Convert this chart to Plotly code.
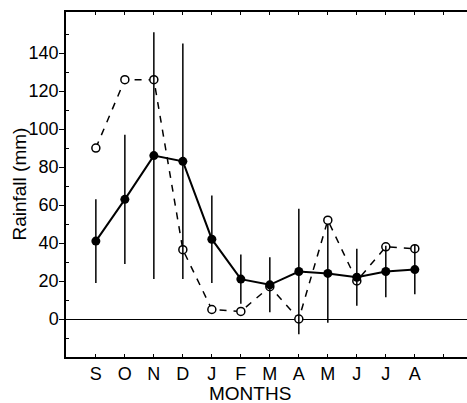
import plotly.graph_objects as go

months = ["S", "O", "N", "D", "J", "F", "M", "A", "M", "J", "J", "A"]
mean_rain = [41, 63, 86, 83, 42, 21, 18, 25, 24, 22, 25, 26]
mean_err = [22, 34, 65, 62, 23, 13, 14.5, 33, 26, 15, 13.5, 13]
year_rain = [90, 126, 126, 36.5, 5, 4, 17, 0, 52, 20, 38, 37]
ytick_vals = [0, 20, 40, 60, 80, 100, 120, 140]

xpos = list(range(len(months)))

fig = go.Figure()
fig.add_trace(go.Scatter(
    x=xpos, y=year_rain, mode="lines+markers",
    line=dict(color="black", width=1.5, dash="7px,7px"),
    marker=dict(symbol="circle", size=8, color="white",
                line=dict(color="black", width=1.5)),
    showlegend=False,
))
fig.add_trace(go.Scatter(
    x=xpos, y=mean_rain, mode="lines+markers",
    line=dict(color="black", width=2),
    marker=dict(symbol="circle", size=9, color="black"),
    error_y=dict(type="data", array=mean_err, visible=True,
                 color="black", thickness=1.5, width=0),
    showlegend=False,
))

fig.update_layout(
    width=467, height=403,
    margin=dict(l=66, r=0, t=12, b=46),
    paper_bgcolor="white", plot_bgcolor="white",
    font=dict(family="Liberation Sans, Arial, sans-serif", color="black", size=18),
    xaxis=dict(
        range=[-1.03, 12.8],
        tickvals=list(range(-1, 13)),
        ticktext=[""] + months + [""],
        ticks="inside", ticklen=3, tickcolor="black", tickwidth=1,
        showline=True, linecolor="black", linewidth=1.5,
        mirror="ticks", showgrid=False, zeroline=False,
        tickfont=dict(size=18),
    ),
    yaxis=dict(
        range=[-20, 161.6],
        tickvals=ytick_vals,
        ticks="outside", ticklen=5, tickcolor="black", tickwidth=1,
        ticklabelstandoff=-3,
        showline=True, linecolor="black", linewidth=1.5,
        showgrid=False, zeroline=True, zerolinecolor="black", zerolinewidth=1,
        tickfont=dict(size=18),
        minor=dict(tickvals=[-10, 10, 30, 50, 70, 90, 110, 130, 150],
                   ticks="inside", ticklen=3, tickcolor="black"),
    ),
    annotations=[
        dict(text="MONTHS", xref="paper", yref="paper", x=0.46, y=-0.105,
             xanchor="center", yanchor="middle", showarrow=False,
             font=dict(size=19)),
        dict(text="Rainfall (mm)", xref="paper", yref="paper", x=-0.117, y=0.5,
             xanchor="center", yanchor="middle", showarrow=False, textangle=-90,
             font=dict(size=19)),
    ],
)

fig.write_html("out.html")
